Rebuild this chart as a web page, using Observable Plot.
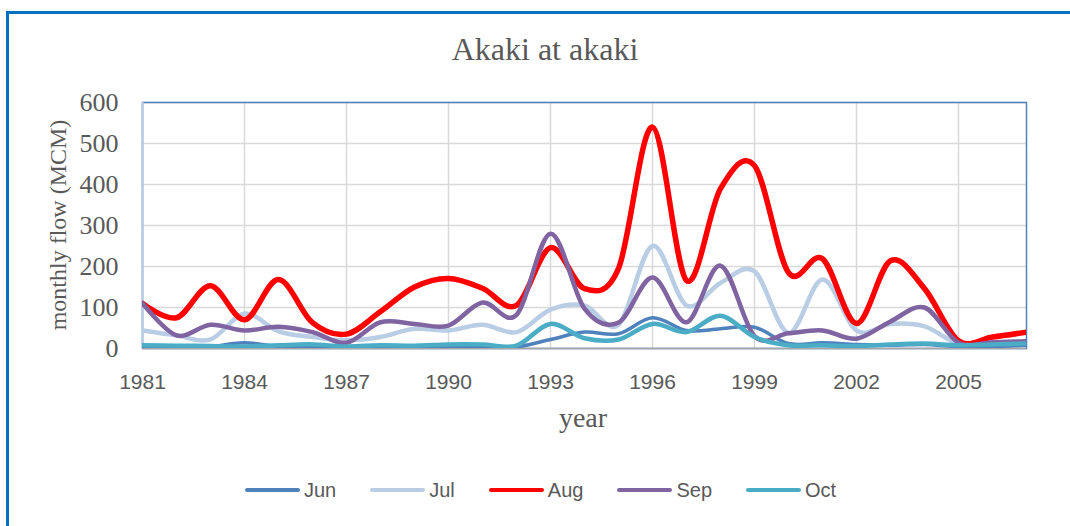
<!DOCTYPE html>
<html>
<head>
<meta charset="utf-8">
<script src="https://cdn.jsdelivr.net/npm/d3@7"></script>
<script src="https://cdn.jsdelivr.net/npm/@observablehq/plot@0.6"></script>
<style>
  html, body { margin: 0; padding: 0; background: #fff; }
  #wrap { position: relative; width: 1070px; height: 526px; overflow: hidden; background: #fff; }
  #frame { position: absolute; left: 6px; top: 11px; width: 1100px; height: 600px; border-left: 3px solid #0070C0; border-top: 3px solid #0070C0; }
  #chart { position: absolute; left: 0; top: 0; }
  .title { position: absolute; left: 0; width: 1090px; top: 31px; text-align: center; font-family: "Liberation Serif", serif; font-size: 32px; color: #595959; }
  .ytitle { position: absolute; left: 58px; top: 225px; transform: translate(-50%, -50%) rotate(-90deg); white-space: nowrap; font-family: "Liberation Serif", serif; font-size: 24px; color: #595959; }
  .xtitle { position: absolute; left: 583px; top: 402px; transform: translateX(-50%); font-family: "Liberation Serif", serif; font-size: 28px; color: #595959; }
  #legend { position: absolute; left: 245px; top: 478px; display: flex; align-items: center; font-family: "Liberation Sans", sans-serif; font-size: 20px; line-height: 24px; color: #595959; }
  .item { display: flex; align-items: center; margin-right: 34px; }
  .swatch { width: 55px; height: 4.5px; border-radius: 3px; margin-right: 4px; }
</style>
</head>
<body>
<div id="wrap">
  <div id="frame"></div>
  <div id="chart"></div>
  <div class="title">Akaki at akaki</div>
  <div class="ytitle">monthly flow (MCM)</div>
  <div class="xtitle">year</div>
  <div id="legend"></div>
</div>
<script>
const years = [1981,1982,1983,1984,1985,1986,1987,1988,1989,1990,1991,1992,1993,1994,1995,1996,1997,1998,1999,2000,2001,2002,2003,2004,2005,2006,2007];
const jun = [5,3,5,14,5,3,2,3,3,5,5,4,22,40,36,75,44,48,52,12,14,10,8,10,5,5,8];
const jul = [44,32,22,85,42,28,20,28,48,44,58,40,95,105,58,250,105,160,188,38,168,44,60,54,12,15,17];
const aug = [110,75,153,70,168,63,35,90,150,171,147,105,246,146,195,540,166,390,446,185,219,61,214,146,19,28,40];
const sep = [110,32,58,44,53,40,14,64,60,56,112,82,280,97,63,173,64,202,30,37,44,24,66,100,14,15,18];
const oct = [8,7,6,5,8,10,5,8,7,10,10,7,60,25,22,60,40,80,28,8,8,6,10,12,8,10,12];
const seriesNames = ["Jun","Jul","Aug","Sep","Oct"];
const seriesValues = [jun, jul, aug, sep, oct];
const seriesColors = ["#4F81BD","#B9CDE5","#FF0000","#8064A2","#4BACC6"];
const seriesWidths = [3.5, 4.5, 5.5, 4.5, 4.5];
const xTicks = [1981,1984,1987,1990,1993,1996,1999,2002,2005];
const yTicks = [0,100,200,300,400,500,600];

const lineMarks = seriesNames.map((name, i) => {
  const data = years.map((yr, j) => ({year: yr, value: seriesValues[i][j], series: name}));
  return Plot.line(data, {x: "year", y: "value", stroke: seriesColors[i], strokeWidth: seriesWidths[i], curve: "cardinal", clip: true});
});

const chart = Plot.plot({
  width: 1070,
  height: 526,
  marginLeft: 142,
  marginRight: 44,
  marginTop: 102,
  marginBottom: 178,
  style: {background: "transparent"},
  x: {domain: [1981, 2007]},
  y: {domain: [0, 600]},
  marks: [
    Plot.gridX(xTicks, {stroke: "#D9D9D9", strokeOpacity: 1, strokeWidth: 1.5}),
    Plot.gridY(yTicks, {stroke: "#D9D9D9", strokeOpacity: 1, strokeWidth: 1.5}),
    Plot.frame({stroke: "#4F81BD", strokeWidth: 1.5}),
    Plot.ruleX([1981], {stroke: "#B9CDE5", strokeWidth: 2}),
    Plot.ruleY([0], {stroke: "#A6A6A6", strokeWidth: 1.5}),
    ...lineMarks,
    Plot.axisX(xTicks, {tickSize: 0, tickPadding: 26, tickFormat: d => String(d), label: null, fontSize: 21, fontFamily: "Liberation Sans", fill: "#595959"}),
    Plot.axisY(yTicks, {tickSize: 0, tickPadding: 24, label: null, fontSize: 26, fontFamily: "Liberation Serif", fill: "#595959"})
  ]
});
document.getElementById("chart").appendChild(chart);

const legend = document.getElementById("legend");
seriesNames.forEach((name, i) => {
  const item = document.createElement("div");
  item.className = "item";
  const sw = document.createElement("div");
  sw.className = "swatch";
  sw.style.background = seriesColors[i];
  const t = document.createElement("span");
  t.textContent = name;
  item.appendChild(sw);
  item.appendChild(t);
  legend.appendChild(item);
});
</script>
</body>
</html>
